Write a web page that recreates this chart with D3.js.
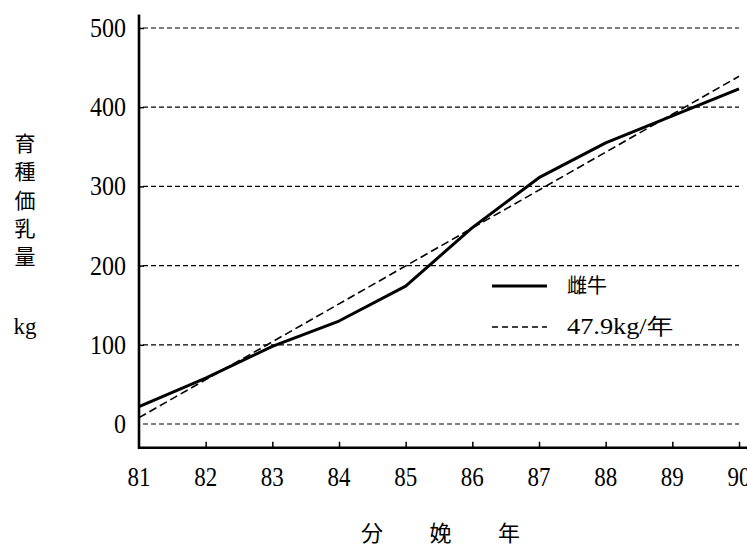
<!DOCTYPE html>
<html>
<head>
<meta charset="utf-8">
<script src="https://cdn.jsdelivr.net/npm/d3@7"></script>
<style>
  body { margin: 0; background: #fff; }
  svg { display: block; }
</style>
</head>
<body>
<svg width="747" height="546" viewBox="0 0 747 546"></svg>
<script>
// Data
const years = [81, 82, 83, 84, 85, 86, 87, 88, 89, 90];
const cowValues = [22, 58, 98, 130, 174, 248, 311, 355, 389, 423];
const trendYears = [81, 90];
const trendValues = [8, 439];
const yTicks = [0, 100, 200, 300, 400, 500];
const legendLabels = ["雌牛", "47.9kg/年"];
const yTitleChars = ["育", "種", "価", "乳", "量"];
const yUnit = "kg";
const xTitleChars = ["分", "娩", "年"];

const svg = d3.select("svg");
const serif = "'Liberation Serif', 'DejaVu Serif', serif";
const cjk = "'Noto Sans CJK JP', 'Noto Sans CJK SC', sans-serif";

const x = d3.scaleLinear().domain([81, 90]).range([139, 739]);
const y = d3.scaleLinear().domain([0, 500]).range([424, 28]);

// Gridlines (dashed)
svg.append("g")
    .selectAll("line")
    .data(yTicks)
    .enter()
    .append("line")
    .attr("x1", x(81) + 4)
    .attr("x2", x(90))
    .attr("y1", d => y(d))
    .attr("y2", d => y(d))
    .attr("stroke", "#000")
    .attr("stroke-width", 1.2)
    .attr("stroke-dasharray", "5,3");

// Axes
const yAxis = d3.axisRight(y).tickValues(yTicks.slice(1)).tickSize(5).tickFormat("");
svg.append("g")
    .attr("transform", `translate(${x(81)},0)`)
    .call(yAxis)
    .call(g => g.select(".domain").remove())
    .call(g => g.selectAll("line").attr("stroke-width", 1.5));

const xAxis = d3.axisTop(x).tickValues(years.slice(1)).tickSize(6).tickFormat("");
svg.append("g")
    .attr("transform", `translate(0,${y(-30)})`)
    .call(xAxis)
    .call(g => g.select(".domain").remove())
    .call(g => g.selectAll("line").attr("stroke-width", 1.5));

svg.append("line")
    .attr("x1", x(81)).attr("x2", x(81))
    .attr("y1", y(517)).attr("y2", y(-30) + 1)
    .attr("stroke", "#000").attr("stroke-width", 2.6);
svg.append("line")
    .attr("x1", x(81) - 1).attr("x2", 747)
    .attr("y1", y(-30)).attr("y2", y(-30))
    .attr("stroke", "#000").attr("stroke-width", 2.6);

// Tick labels
svg.append("g")
    .selectAll("text")
    .data(yTicks)
    .enter()
    .append("text")
    .attr("x", 126)
    .attr("y", d => y(d) + 9)
    .attr("text-anchor", "end")
    .attr("font-family", serif)
    .attr("font-size", 27)
    .attr("textLength", d => String(d).length * 12)
    .attr("lengthAdjust", "spacingAndGlyphs")
    .text(d => d);

svg.append("g")
    .selectAll("text")
    .data(years)
    .enter()
    .append("text")
    .attr("x", d => x(d))
    .attr("y", 486)
    .attr("text-anchor", "middle")
    .attr("font-family", serif)
    .attr("font-size", 27)
    .attr("textLength", 23)
    .attr("lengthAdjust", "spacingAndGlyphs")
    .text(d => d);

// Trend line (dashed)
const line = d3.line().x(d => x(d[0])).y(d => y(d[1]));
svg.append("path")
    .datum(d3.zip(trendYears, trendValues))
    .attr("d", line)
    .attr("fill", "none")
    .attr("stroke", "#000")
    .attr("stroke-width", 1.6)
    .attr("stroke-dasharray", "8,4");

// Cow breeding value line
svg.append("path")
    .datum(d3.zip(years, cowValues))
    .attr("d", line)
    .attr("fill", "none")
    .attr("stroke", "#000")
    .attr("stroke-width", 3)
    .attr("stroke-linejoin", "round");

// Legend
const legend = svg.append("g").attr("transform", "translate(492,286)");
legendLabels.forEach((label, i) => {
    const row = legend.append("g").attr("transform", `translate(0,${i * 41})`);
    row.append("line")
        .attr("x1", 0).attr("x2", 55)
        .attr("stroke", "#000")
        .attr("stroke-width", i === 0 ? 3 : 1.5)
        .attr("stroke-dasharray", i === 0 ? null : "6,4");
    const t = row.append("text")
        .attr("x", 75)
        .attr("y", 7)
        .attr("font-family", i === 0 ? cjk : serif)
        .attr("font-size", i === 0 ? 20 : 23)
        .text(label);
    if (i === 1) t.attr("textLength", 106).attr("lengthAdjust", "spacingAndGlyphs");
});

// Y title (vertical characters) and unit
svg.append("g")
    .selectAll("text")
    .data(yTitleChars)
    .enter()
    .append("text")
    .attr("x", 25)
    .attr("y", (d, i) => 151 + i * 28.3)
    .attr("text-anchor", "middle")
    .attr("font-family", cjk)
    .attr("font-size", 21)
    .text(d => d);

svg.append("text")
    .attr("x", 25)
    .attr("y", 334)
    .attr("text-anchor", "middle")
    .attr("font-family", serif)
    .attr("font-size", 23)
    .text(yUnit);

// X title
svg.append("g")
    .selectAll("text")
    .data(xTitleChars)
    .enter()
    .append("text")
    .attr("x", (d, i) => 372 + i * 68.5)
    .attr("y", 541)
    .attr("text-anchor", "middle")
    .attr("font-family", cjk)
    .attr("font-size", 22)
    .text(d => d);
</script>
</body>
</html>
